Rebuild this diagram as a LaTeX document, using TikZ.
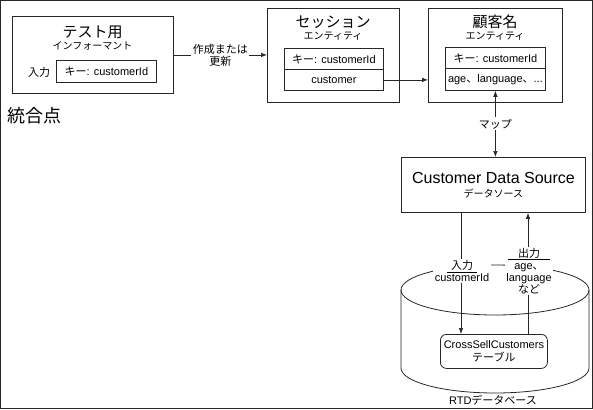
\documentclass[tikz,border=0pt]{standalone}
\usepackage{fontspec}
\setmainfont{Liberation Sans}
\newfontfamily\jp{Noto Sans CJK JP}
\usetikzlibrary{arrows.meta}
\newcommand{\J}[1]{{\jp #1}}
\begin{document}
\begin{tikzpicture}[x=1pt,y=1pt,
  frame/.style={draw=black!85, line width=0.9pt},
  box/.style={draw=black!85, line width=0.9pt, anchor=north west, inner sep=0pt},
  cell/.style={draw=black!85, line width=0.8pt, anchor=north west, inner sep=0pt, font=\fontsize{11}{13}\selectfont},
  ttl/.style={font=\jp\fontsize{15}{18}\selectfont, inner sep=0pt},
  sub/.style={font=\jp\fontsize{10}{12}\selectfont, inner sep=0pt},
  txt/.style={font=\fontsize{11}{12.5}\selectfont, inner sep=0pt},
  lbl/.style={font=\fontsize{11}{12}\selectfont, align=center, fill=white, inner sep=1.5pt},
  arr/.style={draw=black!85, line width=0.7pt, -{Latex[length=6pt,width=4.5pt]}},
  darr/.style={draw=black!85, line width=0.7pt, {Latex[length=6pt,width=4.5pt]}-{Latex[length=6pt,width=4.5pt]}},
]
\useasboundingbox (0,0) rectangle (593,-409);
\draw[frame] (0.5,-0.5) rectangle (592,-408);

% test informant
\node[box, minimum width=161pt, minimum height=77pt] (test) at (12,-16) {};
\node[ttl] (testT) at (92.5,-32) {テスト用};
\node[sub] (testS) at (92.5,-46) {インフォーマント};
\node[txt] (testIn) at (39,-72) {\J{入力}};
\node[cell, minimum width=100pt, minimum height=22pt] (tkey) at (56,-60) {\J{キー}: customerId};

% session entity
\node[box, minimum width=132pt, minimum height=94pt] (session) at (267,-8) {};
\node[ttl] (sessT) at (333,-22) {セッション};
\node[sub] (sessS) at (333,-36) {エンティティ};
\node[cell, minimum width=99pt, minimum height=21pt] (skey) at (284,-48) {\J{キー}: customerId};
\node[cell, minimum width=99pt, minimum height=21pt] (scust) at (284,-69) {customer};

% customer name entity
\node[box, minimum width=134pt, minimum height=94pt] (cname) at (428,-8) {};
\node[ttl] (cnT) at (495,-22) {顧客名};
\node[sub] (cnS) at (495,-36) {エンティティ};
\node[cell, minimum width=100pt, minimum height=21pt] (ckey) at (445,-47) {\J{キー}: customerId};
\node[cell, minimum width=100pt, minimum height=22pt] (cattr) at (445,-68) {age\J{、}language\J{、}...};

% integration point
\node[font=\jp\fontsize{18}{20}\selectfont, inner sep=0pt, anchor=west] (ipt) at (7,-116) {統合点};

% customer data source
\node[box, minimum width=184pt, minimum height=55pt, align=center, font=\fontsize{16}{17}\selectfont] (cds) at (401,-157)
  {Customer Data Source\\[-3pt]{\jp\fontsize{10}{12}\selectfont データソース}};

% RTD database cylinder
\draw[draw=black!85, line width=0.8pt] (401,-290) -- (401,-368)
  arc[start angle=180, end angle=360, x radius=94, y radius=25] -- (589,-290);
\draw[draw=black!85, line width=0.8pt] (495,-290) ellipse [x radius=94, y radius=25];
\node[box, fill=white, rounded corners=6pt, minimum width=107pt, minimum height=34pt, line width=0.8pt,
  align=center, font=\fontsize{11}{13}\selectfont] (tbl) at (440,-334)
  {CrossSellCustomers\\{\jp テーブル}};
\node[txt] (rtd) at (493,-400) {RTD\J{データベース}};

% connectors
\draw[arr] (test.east) -- (test.east -| session.west)
  node[lbl, midway] (lab1) {\J{作成または}\\\J{更新}};
\draw[arr] (scust.east) -- (scust.east -| cname.west);
\draw[darr] (cattr.south) -- (cattr.south |- cds.north)
  node[lbl, midway] (lab2) {\J{マップ}};
\draw[arr] (cds.south -| 461,0) -- (tbl.north -| 461,0);
\draw[arr] (tbl.north -| 528,0) -- (cds.south -| 528,0);
\node[lbl] (inlab) at (462,-271) {\underline{\makebox[30pt]{\jp 入力}}\\customerId};
\node[lbl] (outlab) at (529,-271) {\underline{\makebox[42pt]{\jp 出力}}\\age\J{、}\\language\\\J{など}};
\end{tikzpicture}
\end{document}
